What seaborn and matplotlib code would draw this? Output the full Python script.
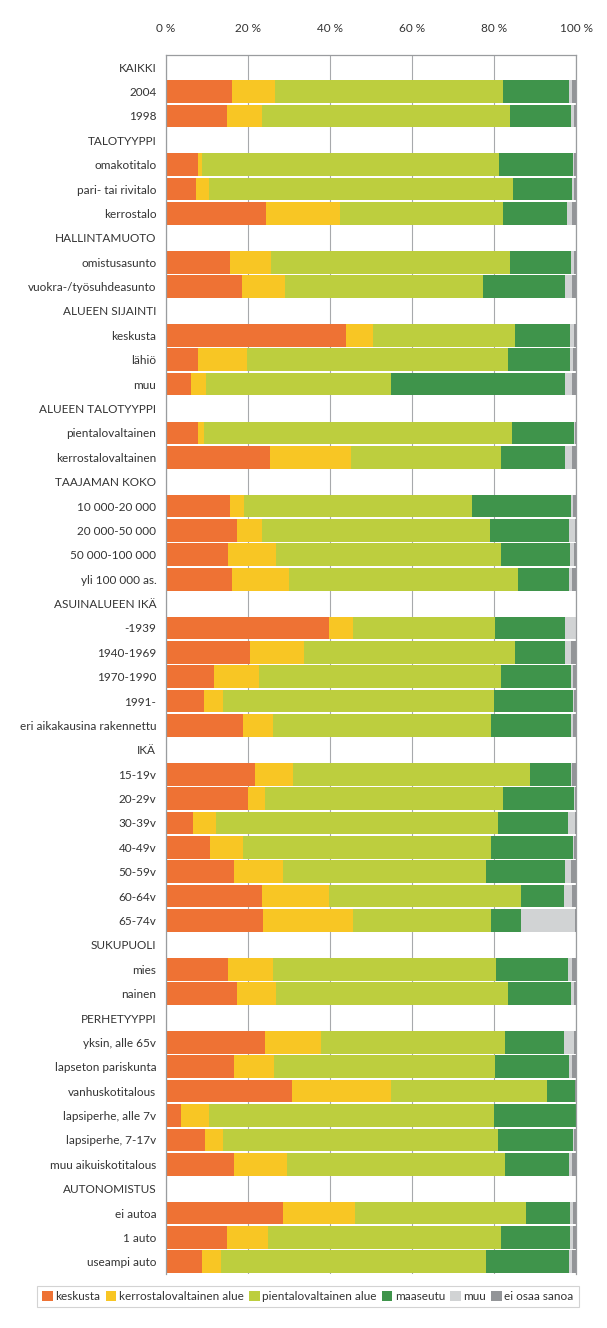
import numpy as np
import pandas as pd
import matplotlib
matplotlib.use("Agg")
import matplotlib.pyplot as plt
import seaborn as sns
from matplotlib.patches import Patch

# ---- data ----
row_labels = [
    "KAIKKI", "2004", "1998",
    "TALOTYYPPI", "omakotitalo", "pari- tai rivitalo", "kerrostalo",
    "HALLINTAMUOTO", "omistusasunto", "vuokra-/työsuhdeasunto",
    "ALUEEN SIJAINTI", "keskusta", "lähiö", "muu",
    "ALUEEN TALOTYYPPI", "pientalovaltainen", "kerrostalovaltainen",
    "TAAJAMAN KOKO", "10 000-20 000", "20 000-50 000", "50 000-100 000", "yli 100 000 as.",
    "ASUINALUEEN IKÄ", "-1939", "1940-1969", "1970-1990", "1991-", "eri aikakausina rakennettu",
    "IKÄ", "15-19v", "20-29v", "30-39v", "40-49v", "50-59v", "60-64v", "65-74v",
    "SUKUPUOLI", "mies", "nainen",
    "PERHETYYPPI", "yksin, alle 65v", "lapseton pariskunta", "vanhuskotitalous",
    "lapsiperhe, alle 7v", "lapsiperhe, 7-17v", "muu aikuiskotitalous",
    "AUTONOMISTUS", "ei autoa", "1 auto", "useampi auto",
]
series_names = ["keskusta", "kerrostalovaltainen alue", "pientalovaltainen alue",
                "maaseutu", "muu", "ei osaa sanoa"]

keskusta = [0, 16.1, 14.8, 0, 7.9, 7.3, 24.5, 0, 15.7, 18.5, 0, 43.8, 7.8, 6.2,
            0, 7.9, 25.4, 0, 15.7, 17.2, 15.0, 16.1, 0, 39.8, 20.4, 11.6, 9.3, 18.7,
            0, 21.7, 19.9, 6.7, 10.7, 16.5, 23.3, 23.6, 0, 15.0, 17.2,
            0, 24.2, 16.5, 30.8, 3.6, 9.6, 16.5, 0, 28.6, 14.8, 8.7]
kerrostalovaltainen = [0, 10.6, 8.7, 0, 0.8, 3.1, 18.0, 0, 9.8, 10.5, 0, 6.8, 12.0, 3.5,
                       0, 1.3, 19.8, 0, 3.4, 6.2, 11.8, 13.9, 0, 5.8, 13.3, 11.2, 4.7, 7.4,
                       0, 9.2, 4.3, 5.6, 8.2, 12.1, 16.5, 22.1, 0, 11.1, 9.7,
                       0, 13.7, 9.8, 24.0, 6.8, 4.4, 13.0, 0, 17.4, 10.0, 4.6]
pientalovaltainen = [0, 55.4, 60.3, 0, 72.5, 74.2, 39.6, 0, 58.5, 48.4, 0, 34.6, 63.5, 45.1,
                     0, 75.1, 36.6, 0, 55.5, 55.6, 55.0, 55.8, 0, 34.7, 51.5, 59.0, 66.1, 53.1,
                     0, 58.0, 57.9, 68.6, 60.3, 49.4, 46.8, 33.5, 0, 54.5, 56.6,
                     0, 44.9, 54.0, 38.2, 69.7, 66.9, 53.1, 0, 41.8, 57.0, 64.7]
maaseutu = [0, 16.3, 15.1, 0, 18.0, 14.5, 15.7, 0, 14.9, 20.0, 0, 13.4, 15.3, 42.5,
            0, 15.2, 15.6, 0, 24.3, 19.3, 16.8, 12.6, 0, 17.1, 12.0, 17.1, 19.1, 19.7,
            0, 9.8, 17.4, 17.2, 20.1, 19.2, 10.4, 7.4, 0, 17.5, 15.4,
            0, 14.2, 18.0, 6.8, 19.9, 18.3, 15.7, 0, 10.8, 16.8, 20.3]
muu = [0, 0.6, 0.6, 0, 0.4, 0.5, 1.3, 0, 0.6, 1.7, 0, 0.9, 0.6, 1.8,
       0, 0.2, 1.7, 0, 0.3, 1.4, 0.8, 0.7, 0, 2.6, 1.6, 0.4, 0.3, 0.4,
       0, 0.3, 0.2, 1.6, 0.3, 1.6, 2.0, 13.1, 0, 1.0, 0.5,
       0, 2.5, 0.8, 0.0, 0.0, 0.4, 0.8, 0, 0.6, 0.6, 0.7]
ei_osaa_sanoa = [0, 1.0, 0.5, 0, 0.4, 0.4, 0.9, 0, 0.5, 0.9, 0, 0.5, 0.8, 0.9,
                 0, 0.3, 0.9, 0, 0.8, 0.3, 0.6, 0.9, 0, 0.0, 1.2, 0.7, 0.5, 0.7,
                 0, 1.0, 0.3, 0.3, 0.4, 1.2, 1.0, 0.3, 0, 0.9, 0.6,
                 0, 0.5, 0.9, 0.2, 0.0, 0.4, 0.9, 0, 0.8, 0.8, 1.0]
tick_values = [0, 20, 40, 60, 80, 100]
tick_labels = ["0 %", "20 %", "40 %", "60 %", "80 %", "100 %"]

colors = ["#EE7234", "#F8C624", "#BDCE3E", "#3F944B", "#D1D3D4", "#939598"]

# ---- build ----
vals = np.array([keskusta, kerrostalovaltainen, pientalovaltainen, maaseutu, muu, ei_osaa_sanoa]).T
cum = np.cumsum(vals, axis=1)
df = pd.DataFrame(cum, columns=series_names)
df["rivi"] = row_labels

sns.set_theme(style="white")
plt.rcParams["font.family"] = ["Lato", "DejaVu Sans"]

fig = plt.figure(figsize=(6.07, 13.28), dpi=100)
ax = fig.add_axes([166 / 607, 1 - 1274 / 1328, 410 / 607, (1274 - 55) / 1328])

for i in range(len(series_names) - 1, -1, -1):
    sns.barplot(data=df, x=series_names[i], y="rivi", order=row_labels, orient="h",
                color=colors[i], saturation=1, width=0.93, linewidth=0, ax=ax)

ax.set_xlim(0, 100)
ax.set_xticks(tick_values)
ax.set_xticklabels(tick_labels)
ax.xaxis.tick_top()
ax.tick_params(axis="x", length=0, pad=15, labelsize=8.5, colors="#333333")
ax.tick_params(axis="y", length=0, pad=7, labelsize=8.5, colors="#333333")
ax.set_xlabel("")
ax.set_ylabel("")
ax.xaxis.grid(True, color="#a7a9ac", linewidth=0.8)
ax.set_axisbelow(True)
for s in ["left", "top", "right"]:
    ax.spines[s].set_visible(True)
    ax.spines[s].set_color("#9a9c9f")
    ax.spines[s].set_linewidth(0.9)
ax.spines["bottom"].set_visible(False)

handles = [Patch(facecolor=c, edgecolor="none") for c in colors]
leg = fig.legend(handles, series_names, loc="center", ncol=6,
                 bbox_to_anchor=(308 / 607, 1 - 1296.5 / 1328),
                 fontsize=8.5, frameon=True, fancybox=False,
                 handlelength=0.9, handleheight=0.9, handletextpad=0.2,
                 columnspacing=0.45, borderpad=0.45, borderaxespad=0)
leg.get_frame().set_edgecolor("#c8c8c8")
leg.get_frame().set_linewidth(0.8)
for t in leg.get_texts():
    t.set_color("#333333")

fig.savefig("out.png", dpi=100)
